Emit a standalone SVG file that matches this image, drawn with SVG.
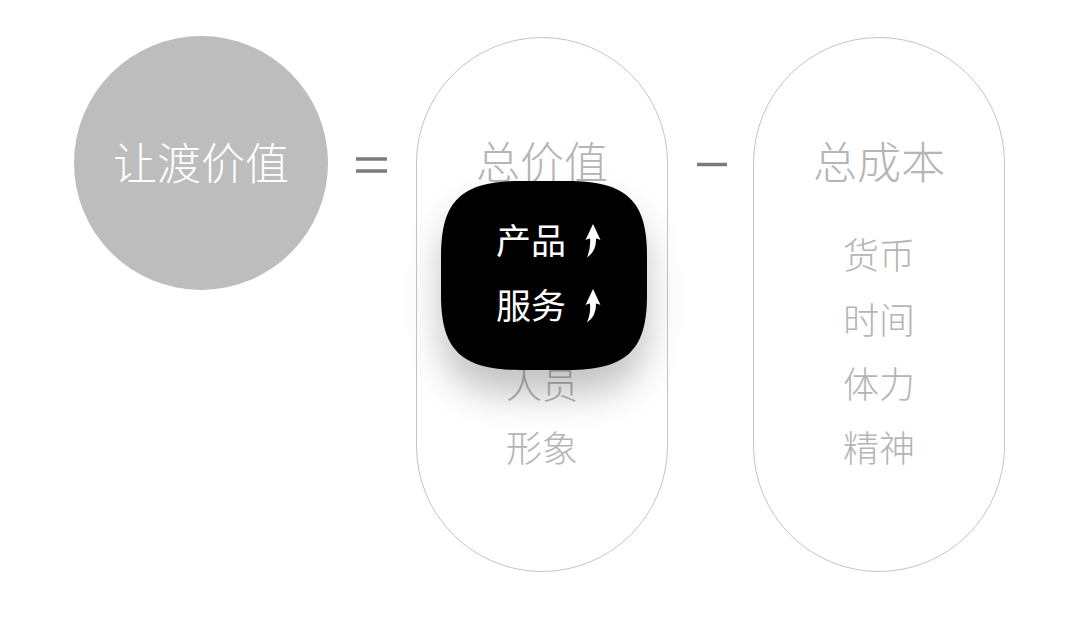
<svg xmlns="http://www.w3.org/2000/svg" width="1080" height="629" viewBox="0 0 1080 629">
  <style>
    .t { font-family: "Noto Sans CJK SC", "Noto Sans", sans-serif; text-anchor: middle; }
    .head { font-size: 44px; fill: #b5b5b5; font-weight: 300; }
    .item { font-size: 36px; fill: #b5b5b5; font-weight: 300; }
    .pill { fill: #ffffff; stroke: #c4c4c4; stroke-width: 1; }
    .op { stroke: #7a7a7a; stroke-width: 3.5; }
    .hi { font-size: 35px; fill: #ffffff; text-anchor: start; }
  </style>
  <defs>
    <filter id="shadow" x="-40%" y="-40%" width="180%" height="200%">
      <feDropShadow dx="0" dy="24" stdDeviation="18" flood-color="#000" flood-opacity="0.24"/>
    </filter>
    <path id="arrow" d="M593,224 L600.5,240 Q598,238.5 596,238.5 Q596.5,251 587,257.5 Q591,248 590,238.5 Q588,238.5 585.5,240 Z" fill="#ffffff"/>
  </defs>
  <rect width="1080" height="629" fill="#ffffff"/>

  <g id="node-value">
    <circle cx="201" cy="163" r="127" fill="#bdbdbd"/>
    <text class="t" x="201" y="180" font-size="44" fill="#ffffff" font-weight="300">让渡价值</text>
  </g>

  <g id="connectors">
    <line class="op" x1="356" y1="159" x2="387" y2="159"/>
    <line class="op" x1="356" y1="171" x2="387" y2="171"/>
    <line class="op" x1="697" y1="164.5" x2="727" y2="164.5"/>
  </g>

  <g id="node-total-value">
    <rect class="pill" x="416.5" y="37.5" width="251" height="534" rx="125.5"/>
    <text class="t head" x="542" y="179">总价值</text>
    <text class="t item" x="542" y="399">人员</text>
    <text class="t item" x="542" y="462">形象</text>
  </g>

  <g id="node-total-cost">
    <rect class="pill" x="753.5" y="37.5" width="251" height="534" rx="125.5"/>
    <text class="t head" x="879" y="179">总成本</text>
    <text class="t item" x="879" y="269">货币</text>
    <text class="t item" x="879" y="334">时间</text>
    <text class="t item" x="879" y="398">体力</text>
    <text class="t item" x="879" y="462">精神</text>
  </g>

  <g id="node-highlight">
    <path filter="url(#shadow)" fill="#000000" d="M521,181 L567,181 C627,181 647,201 647,256 L647,295 C647,350 627,370 567,370 L521,370 C461,370 441,350 441,295 L441,256 C441,201 461,181 521,181 Z"/>
    <text class="t hi" x="496" y="253.5">产品</text>
    <text class="t hi" x="496" y="318.5">服务</text>
    <use href="#arrow"/>
    <use href="#arrow" y="65"/>
  </g>
</svg>
